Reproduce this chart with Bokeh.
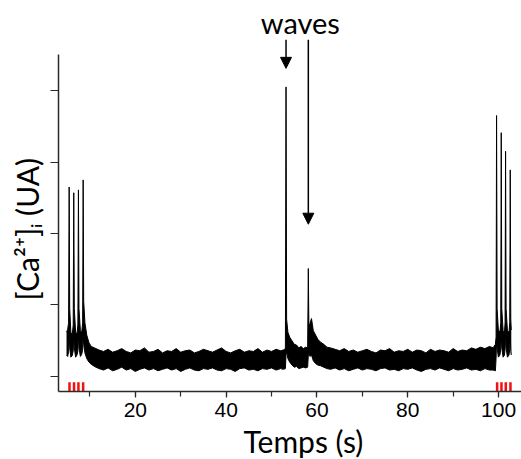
from bokeh.plotting import figure
from bokeh.models import (Range1d, FixedTicker, Label, Arrow, NormalHead, ColumnDataSource,
                          Title, CustomJSTickFormatter)
from bokeh.embed import file_html
from bokeh.resources import INLINE

# ---- data (time in s, [Ca2+]i in arbitrary units) ----
# left burst (4 evoked transients)
t_left = [4.85, 5.10, 5.30, 5.43, 5.55, 5.80, 6.10, 6.32, 6.44, 6.56, 6.85, 7.15,
          7.35, 7.47, 7.59, 7.90, 8.20, 8.40, 8.51, 8.63, 8.90, 9.30, 9.80, 10.30]
hi_left = [0.62, 0.66, 0.75, 2.65, 0.95, 0.62, 0.58, 0.72, 2.57, 0.95, 0.62, 0.60,
           0.72, 2.61, 0.95, 0.64, 0.62, 0.75, 2.75, 1.05, 0.75, 0.58, 0.47, 0.42]
lo_left = [0.30, 0.28, 0.35, 0.60, 0.40, 0.27, 0.29, 0.36, 0.60, 0.40, 0.27, 0.30,
           0.36, 0.60, 0.40, 0.28, 0.31, 0.38, 0.60, 0.45, 0.33, 0.25, 0.20, 0.17]

# baseline 1
t_base1 = list(range(11, 53))
hi_base1 = [0.40, 0.37, 0.35, 0.38, 0.34, 0.36, 0.39, 0.35, 0.33, 0.37,
            0.36, 0.40, 0.34, 0.35, 0.38, 0.33, 0.36, 0.35, 0.39, 0.34,
            0.36, 0.37, 0.33, 0.35, 0.38, 0.36, 0.34, 0.37, 0.40, 0.35,
            0.33, 0.36, 0.38, 0.34, 0.36, 0.35, 0.39, 0.34, 0.37, 0.35,
            0.38, 0.36]
lo_base1 = [0.14, 0.11, 0.09, 0.12, 0.08, 0.10, 0.13, 0.09, 0.11, 0.07,
            0.10, 0.12, 0.09, 0.11, 0.08, 0.10, 0.12, 0.09, 0.11, 0.07,
            0.10, 0.12, 0.09, 0.08, 0.11, 0.10, 0.12, 0.09, 0.08, 0.11,
            0.10, 0.07, 0.11, 0.12, 0.09, 0.10, 0.08, 0.11, 0.10, 0.12,
            0.09, 0.11]

# spontaneous waves
t_wave = [52.6, 53.05, 53.19, 53.32, 53.6, 54.0, 54.5, 55.0, 55.5, 56.0, 56.5, 57.0,
          57.5, 57.95, 58.10, 58.22, 58.45, 58.80, 59.2, 59.7, 60.2, 60.8, 61.5, 62.2]
hi_wave = [0.37, 0.39, 4.05, 0.80, 0.62, 0.55, 0.50, 0.45, 0.44, 0.40, 0.42, 0.39,
           0.41, 0.40, 1.51, 0.72, 0.74, 0.81, 0.64, 0.58, 0.52, 0.48, 0.45, 0.41]
lo_wave = [0.10, 0.11, 0.30, 0.35, 0.25, 0.20, 0.16, 0.13, 0.14, 0.11, 0.12, 0.13,
           0.12, 0.13, 0.30, 0.33, 0.28, 0.30, 0.22, 0.18, 0.16, 0.15, 0.13, 0.11]

# baseline 2
t_base2 = list(range(63, 99))
hi_base2 = [0.40, 0.38, 0.36, 0.39, 0.35, 0.37, 0.34, 0.36, 0.38, 0.35,
            0.33, 0.37, 0.36, 0.39, 0.34, 0.36, 0.35, 0.38, 0.34, 0.37,
            0.36, 0.33, 0.38, 0.35, 0.37, 0.36, 0.34, 0.39, 0.35, 0.37,
            0.36, 0.40, 0.38, 0.41, 0.39, 0.42]
lo_base2 = [0.10, 0.12, 0.09, 0.11, 0.08, 0.10, 0.12, 0.09, 0.11, 0.10,
            0.08, 0.11, 0.12, 0.09, 0.10, 0.08, 0.11, 0.10, 0.12, 0.09,
            0.07, 0.10, 0.11, 0.09, 0.12, 0.10, 0.08, 0.11, 0.09, 0.10,
            0.12, 0.09, 0.10, 0.08, 0.11, 0.09]

# right burst
t_right = [98.8, 99.3, 99.45, 99.56, 99.68, 99.95, 100.3, 100.48, 100.59, 100.71, 101.0,
           101.3, 101.43, 101.54, 101.66, 101.95, 102.3, 102.46, 102.57, 102.69, 102.80]
hi_right = [0.40, 0.45, 0.55, 3.65, 0.95, 0.65, 0.62, 0.75, 3.41, 0.95, 0.64,
            0.62, 0.75, 3.15, 0.95, 0.64, 0.62, 0.75, 2.89, 0.80, 0.65]
lo_right = [0.09, 0.08, 0.25, 0.50, 0.40, 0.27, 0.30, 0.38, 0.60, 0.40, 0.27,
            0.30, 0.38, 0.60, 0.40, 0.27, 0.30, 0.38, 0.60, 0.35, 0.30]

# stimulation times (red marks)
stim_t = [5.50, 6.50, 7.47, 8.51, 99.68, 100.64, 101.58, 102.62]

# annotated waves: time, arrow tip level
wave_t = [53.19, 58.10]
wave_tip = [4.31, 2.13]
arrow_top = 4.71

x_ticks = [20, 40, 60, 80, 100]
x_minor = [10, 20, 30, 40, 50, 60, 70, 80, 90, 100]
y_ticks = [0, 1, 2, 3, 4]

# ---- assemble ----
t_all = t_left + t_base1 + t_wave + t_base2 + t_right
hi_all = hi_left + hi_base1 + hi_wave + hi_base2 + hi_right
lo_all = lo_left + lo_base1 + lo_wave + lo_base2 + lo_right
src = ColumnDataSource(dict(t=t_all, hi=hi_all, lo=lo_all))

X0, X1 = 3.08, 105.05
Y0, Y1 = -0.21, 5.259

p = figure(width=521, height=459, output_backend="svg", toolbar_location=None,
           x_range=Range1d(X0, X1), y_range=Range1d(Y0, Y1),
           min_border_left=57, min_border_right=0, min_border_top=0, min_border_bottom=68)
p.outline_line_color = None
p.xgrid.visible = False
p.ygrid.visible = False
p.background_fill_color = "white"

p.varea(x="t", y1="lo", y2="hi", source=src, fill_color="black")
p.line(x="t", y="hi", source=src, line_color="black", line_width=1)
p.line(x="t", y="lo", source=src, line_color="black", line_width=1)

# stimulation marks
p.segment(x0=stim_t, y0=[Y0 - 0.05] * len(stim_t), x1=stim_t, y1=[-0.08] * len(stim_t),
          line_color="#f21010", line_width=2.5)

# axes
ax = p.xaxis[0]
ax.ticker = FixedTicker(ticks=x_ticks, minor_ticks=x_minor)
ax.major_tick_out = 6
ax.major_tick_in = 0
ax.minor_tick_out = 5
ax.minor_tick_in = 0
ax.axis_line_width = 1.5
ax.axis_line_color = "#2a2a2a"
ax.major_tick_line_color = "#2a2a2a"
ax.minor_tick_line_color = "#2a2a2a"
ax.major_tick_line_width = 1.2
ax.minor_tick_line_width = 1.2
ax.major_label_text_font = "Liberation Sans"
ax.major_label_text_font_size = "21px"
ax.major_label_text_color = "black"
ax.major_label_standoff = 5

ay = p.yaxis[0]
ay.ticker = FixedTicker(ticks=y_ticks, minor_ticks=[])
ay.formatter = CustomJSTickFormatter(code="return ''")
ay.bounds = (Y0, 4.5)
ay.major_tick_out = 8
ay.major_tick_in = 0
ay.minor_tick_out = 0
ay.axis_line_width = 1.5
ay.axis_line_color = "#2a2a2a"
ay.major_tick_line_color = "#2a2a2a"
ay.major_tick_line_width = 1.2
ay.major_label_standoff = 0

# axis titles
p.add_layout(Title(text="[Ca²⁺]ᵢ  (UA)", align="left", offset=91, standoff=12,
                   text_font="Lato", text_font_size="30px", text_font_style="normal",
                   text_color="black"), "left")
p.add_layout(Title(text="Temps (s)", align="left", offset=185, vertical_align="bottom",
                   standoff=2, text_font="Lato", text_font_size="30px",
                   text_font_style="normal", text_color="black"), "below")

# wave annotation
p.add_layout(Label(x=(wave_t[0] + wave_t[1]) / 2 + 0.7, y=4.95, text="waves",
                   text_align="center", text_baseline="alphabetic", text_font="Lato",
                   text_font_size="29px", text_color="black"))
for wt, tip in zip(wave_t, wave_tip):
    p.add_layout(Arrow(x_start=wt, y_start=arrow_top, x_end=wt, y_end=tip,
                       line_color="black", line_width=1.5,
                       end=NormalHead(size=11, fill_color="black", line_color="black")))

open("out.html", "w").write(file_html(p, INLINE))
